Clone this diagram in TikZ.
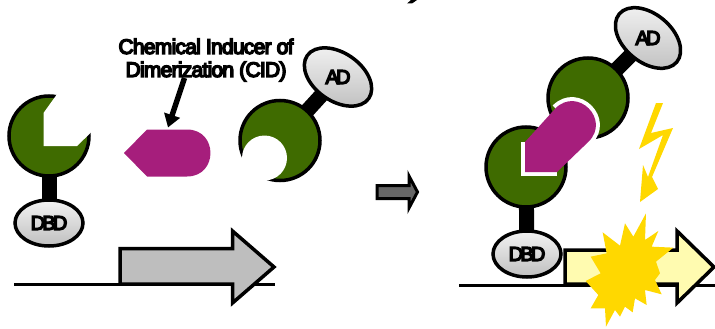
\documentclass[tikz,border=0pt]{standalone}
\usepackage{fontspec}
\usetikzlibrary{arrows.meta,shapes.geometric,backgrounds}
\setmainfont{Liberation Sans}
\newfontfamily\lblfont[LetterSpace=-3.5,FakeBold=7]{Liberation Sans}
\newfontfamily\domfont[LetterSpace=-14,FakeBold=7]{Liberation Sans}
\definecolor{modgreen}{HTML}{3F6B00}
\definecolor{cidpurple}{HTML}{A61E7C}
\definecolor{boltyellow}{HTML}{FFD800}
\definecolor{paleyellow}{HTML}{FFFBB0}
\definecolor{genegray}{HTML}{BEBEBE}
\definecolor{movegray}{HTML}{666666}
\tikzset{
  module/.style={circle,draw=black,line width=3.5pt,fill=modgreen,minimum size=80pt,inner sep=0pt},
  stem/.style={line width=15pt,draw=black},
  dom/.style={ellipse,draw=black,line width=3.5pt,top color=gray!10,bottom color=gray!50,minimum width=68pt,minimum height=46pt,inner sep=0pt},
  adom/.style={dom,rotate=#1,minimum width=75pt,minimum height=48pt},
  domtext/.style={font=\domfont\fontsize{20}{22}\selectfont,inner sep=0pt},
  geneline/.style={line width=3pt,draw=black},
  genearrow/.style={line width=3.5pt,draw=black,miter limit=10},
  endpoint/.style={inner sep=0pt,minimum size=0pt},
}
\begin{document}
\begin{tikzpicture}[x=1pt,y=-1pt]
\useasboundingbox (0,0) rectangle (715,329);
% fragment of the cut-off heading
\fill[black] (407,3.5) -- (411,0) -- (417,0) -- (412,3.5) -- cycle;
% left: gene
\node[endpoint] (lgs) at (14,284.5) {};
\node[endpoint] (lge) at (275,284.5) {};
\draw[geneline] (lgs) -- (lge);
\draw[genearrow,fill=genegray] (120,284) -- (120,248.5) -- (232.5,248.5) -- (232.5,231) -- (274,267) -- (232.5,303) -- (232.5,284) -- cycle;
% left: DBD module
\node[module] (lm) at (49,136) {};
\node[dom] (ldbd) at (49,223) {};
\node[domtext] at (ldbd.center) {DBD};
\begin{pgfonlayer}{background}
\draw[stem] (lm.center) -- (ldbd.center);
\end{pgfonlayer}
\fill[white] (60,90) -- (43.5,113) -- (43.5,146) -- (77,146) -- (92,131.5) -- (96,90) -- cycle;
% CID label and arrow
\node[align=center,font=\lblfont\fontsize{21}{23}\selectfont,inner sep=0pt] (cidlabel) at (206,60) {Chemical Inducer of\\Dimerization (CID)};
\coordinate (cidfrom) at (184.5,78);
\coordinate (cidto) at (168,127.5);
% left: CID
\fill[cidpurple] (124,153) -- (147,129.5) -- (187,129.5) .. controls (218.3,129.5) and (218.3,176.5) .. (187,176.5) -- (147,176.5) -- cycle;
\draw[line width=5.5pt,-{Triangle[length=13pt,width=16pt]}] (cidfrom) -- (cidto);
% left: AD module
\node[module] (rm) at (280,140.5) {};
\node[adom=-35] (lad) at (338,77) {};
\node[domtext] at (lad.center) {AD};
\begin{pgfonlayer}{background}
\draw[stem] (rm.center) -- (lad.center);
\end{pgfonlayer}
\node[circle,fill=white,minimum size=45pt,inner sep=0pt] (bite) at (264.5,158) {};
% move arrow
\draw[line width=3pt,draw=black,fill=movegray,miter limit=10,line join=miter] (377,185.5) -- (409,185.5) -- (409,176) -- (417.5,192) -- (409,208) -- (409,198.5) -- (377,198.5) -- cycle;
% right: gene
\node[endpoint] (rgs) at (459,285) {};
\node[endpoint] (rge) at (715,285) {};
\draw[geneline] (rgs) -- (rge);
\draw[genearrow,fill=paleyellow] (565,284) -- (565,250) -- (677,250) -- (677,231) -- (714,267) -- (677,303) -- (677,284) -- cycle;
% right: complex
\node[module] (cb) at (526,167) {};
\node[dom] (cdbd) at (527,254) {};
\node[domtext] at (cdbd.center) {DBD};
\node[module] (ct) at (588,98) {};
\node[adom=-40] (cad) at (648,38) {};
\node[domtext] at (cad.center) {AD};
\begin{pgfonlayer}{background}
\draw[stem] (cb.center) -- (cdbd.center);
\draw[stem] (ct.center) -- (cad.center);
\end{pgfonlayer}
% CID bound: white only along the notch and the round end
\draw[white,line width=8pt,line join=miter] (525,142) -- (525,172) -- (557,172);
\draw[white,line width=8pt] (555.4,108.4) .. controls (577.6,86.2) and (610.8,119.4) .. (588.6,141.6);
\fill[cidpurple] (525,172) -- (525,142) -- (555.4,108.4) .. controls (577.6,86.2) and (610.8,119.4) .. (588.6,141.6) -- (557,172) -- cycle;
% lightning bolt
\fill[boltyellow] (656,103) -- (663,103) -- (651,133) -- (673,128) -- (652,177) -- (658,189) -- (640,202) -- (643,165) -- (648,177) -- (663,135) -- (639,149) -- cycle;
% burst
\begin{scope}[shift={(570,205)},x=.3333pt,y=-.3333pt]
\fill[boltyellow] (228,25) -- (225,105) -- (265,78) -- (245,125) -- (310,128) -- (258,170) -- (270,205) -- (255,225) -- (275,268) -- (225,255) -- (230,300) -- (195,280) -- (188,322) -- (165,305) -- (150,335) -- (135,315) -- (108,365) -- (105,310) -- (62,310) -- (85,270) -- (47,228) -- (92,205) -- (62,155) -- (110,145) -- (98,82) -- (150,122) -- (165,55) -- (190,95) -- cycle;
\end{scope}
\end{tikzpicture}
\end{document}
